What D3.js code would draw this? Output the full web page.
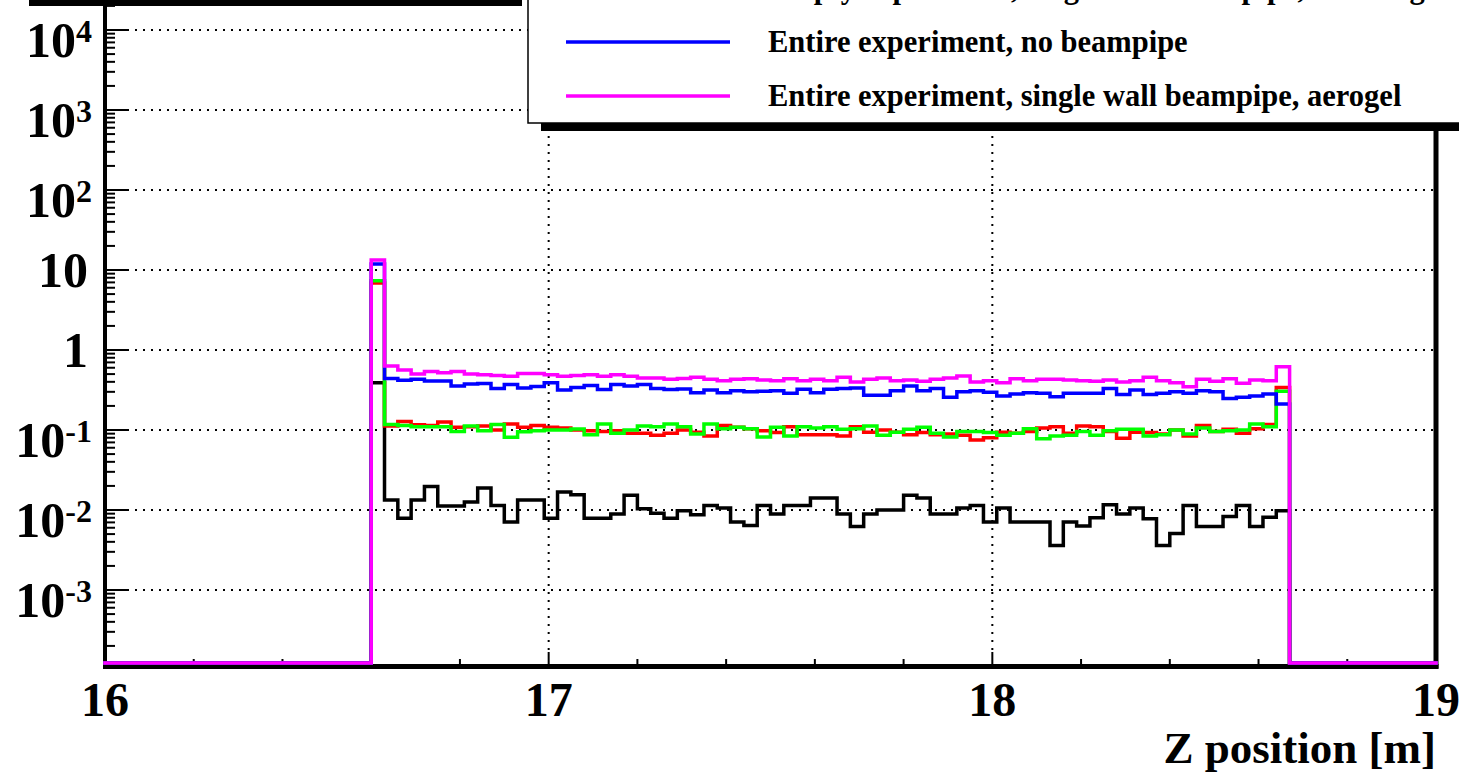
<!DOCTYPE html>
<html><head><meta charset="utf-8">
<script src="https://cdn.jsdelivr.net/npm/d3@7"></script>
<style>
html,body{margin:0;padding:0;background:#fff;overflow:hidden;}
svg{display:block;}
text{font-family:"Liberation Serif","Times New Roman",serif;font-weight:bold;fill:#000;}
</style></head><body>
<svg id="c" width="1459" height="773"></svg>
<script>
// ---- data ----
const binLow = 16, binWidth = 0.03, nBins = 100, firstFilledBin = 20;
const xTickValues = [16, 17, 18, 19];
const yDecades = [-3, -2, -1, 0, 1, 2, 3, 4];
const xTitle = "Z position [m]";

const blackVals = [0.39,0.0133,0.0079,0.0133,0.0196,0.0112,0.0112,0.0126,0.0188,0.0114,
 0.0071,0.0133,0.0133,0.0079,0.0168,0.0155,0.0079,0.0079,0.0089,0.0153,
 0.0104,0.0091,0.0079,0.0098,0.0087,0.0114,0.0106,0.0071,0.0064,0.0114,
 0.0089,0.0114,0.0114,0.0141,0.0141,0.0089,0.0062,0.0089,0.0100,0.0100,
 0.0153,0.0141,0.0089,0.0089,0.0106,0.0114,0.0071,0.0106,0.0071,0.0071,
 0.0071,0.0036,0.0071,0.0063,0.0080,0.0116,0.0089,0.0106,0.0078,0.0036,
 0.0051,0.0114,0.0062,0.0062,0.0083,0.0114,0.0062,0.0081,0.0098];
const redVals = [6.9,0.112,0.128,0.116,0.114,0.126,0.108,0.110,0.112,0.100,
 0.119,0.108,0.114,0.108,0.106,0.100,0.098,0.096,0.098,0.091,
 0.091,0.086,0.091,0.100,0.094,0.084,0.114,0.108,0.104,0.098,
 0.093,0.110,0.087,0.087,0.087,0.084,0.110,0.094,0.100,0.094,
 0.087,0.093,0.087,0.089,0.086,0.075,0.080,0.094,0.091,0.096,
 0.106,0.110,0.091,0.112,0.110,0.096,0.079,0.094,0.093,0.089,
 0.100,0.084,0.114,0.096,0.102,0.091,0.104,0.117,0.341];
const greenVals = [7.35,0.117,0.114,0.110,0.110,0.110,0.096,0.112,0.098,0.117,
 0.081,0.095,0.098,0.100,0.100,0.103,0.087,0.119,0.091,0.100,
 0.112,0.110,0.119,0.110,0.089,0.119,0.104,0.108,0.104,0.082,
 0.108,0.084,0.110,0.106,0.110,0.102,0.104,0.112,0.086,0.094,
 0.102,0.108,0.091,0.082,0.096,0.096,0.093,0.086,0.091,0.104,
 0.078,0.084,0.086,0.096,0.086,0.098,0.102,0.102,0.084,0.087,
 0.100,0.089,0.106,0.096,0.098,0.100,0.119,0.110,0.304];
const blueVals = [11.9,0.44,0.42,0.43,0.41,0.41,0.355,0.376,0.38,0.33,
 0.37,0.335,0.35,0.39,0.316,0.34,0.36,0.32,0.37,0.355,
 0.37,0.33,0.32,0.325,0.293,0.316,0.293,0.31,0.30,0.304,
 0.31,0.287,0.322,0.293,0.322,0.329,0.335,0.271,0.271,0.31,
 0.355,0.31,0.329,0.256,0.30,0.31,0.296,0.266,0.282,0.293,
 0.287,0.26,0.287,0.287,0.287,0.329,0.277,0.316,0.277,0.287,
 0.30,0.287,0.31,0.30,0.247,0.256,0.266,0.282,0.211];
const magentaVals = [13.3,0.63,0.562,0.50,0.54,0.52,0.54,0.50,0.49,0.48,
 0.47,0.51,0.51,0.49,0.47,0.48,0.49,0.47,0.49,0.47,
 0.447,0.447,0.43,0.44,0.455,0.43,0.414,0.43,0.438,0.422,
 0.414,0.438,0.414,0.43,0.414,0.455,0.398,0.43,0.447,0.414,
 0.422,0.406,0.43,0.447,0.473,0.398,0.414,0.391,0.438,0.414,
 0.43,0.43,0.422,0.414,0.406,0.422,0.398,0.414,0.455,0.414,
 0.391,0.348,0.43,0.406,0.438,0.383,0.422,0.414,0.619];

const seriesValues = [blackVals, redVals, greenVals, blueVals, magentaVals];
const seriesColors = ["#000000", "#ff0000", "#00ff00", "#0000ff", "#ff00ff"];

const legendLabels = ["Empty experiment, single wall beampipe, no aerogel",
  "Entire experiment, no beampipe",
  "Entire experiment, single wall beampipe, aerogel"];
const legendColors = ["#00ff00", "#0000ff", "#ff00ff"];

// ---- layout ----
const svg = d3.select("#c");
const frame = {left: 105, right: 1436, bottom: 665, top: 0};
const x = d3.scaleLinear().domain([16, 19]).range([frame.left, frame.right]);
const y = d3.scaleLog().domain([Math.pow(10, -3.9375), Math.pow(10, 4.375)]).range([frame.bottom, frame.top]);
const zeroY = 663;

// top-left bar (shadow of box above)
svg.append("rect").attr("x", 29).attr("y", -6).attr("width", 493).attr("height", 12).attr("fill", "#000");

// grid
const grid = svg.append("g").attr("stroke", "#000").attr("stroke-width", 2).attr("stroke-dasharray", "2,6");
yDecades.forEach(d => {
  const yy = y(Math.pow(10, d));
  grid.append("line").attr("x1", frame.left + 22).attr("x2", frame.right).attr("y1", yy).attr("y2", yy);
});
[17, 18].forEach(v => {
  grid.append("line").attr("x1", x(v)).attr("x2", x(v)).attr("y1", frame.top).attr("y2", frame.bottom - 12);
});

// axes frame
const axisG = svg.append("g");
const minorY = [];
for (let d = -4; d <= 4; d++) {
  for (let k = 2; k <= 9; k++) {
    const v = k * Math.pow(10, d);
    if (v > y.domain()[0] && v < y.domain()[1]) minorY.push(v);
  }
}
axisG.selectAll(".ymin").data(minorY).enter().append("line")
  .attr("x1", frame.left).attr("x2", frame.left + 10)
  .attr("y1", d => y(d)).attr("y2", d => y(d)).attr("stroke", "#000").attr("stroke-width", 2);
axisG.selectAll(".ymaj").data(yDecades).enter().append("line")
  .attr("x1", frame.left).attr("x2", frame.left + 22)
  .attr("y1", d => y(Math.pow(10, d))).attr("y2", d => y(Math.pow(10, d))).attr("stroke", "#000").attr("stroke-width", 2);

// x axis ticks
const minorX = d3.range(80, 96).map(i => i / 5).filter(v => !xTickValues.includes(v) && v > 16 && v < 19);
axisG.selectAll(".xmin").data(minorX).enter().append("line")
  .attr("x1", d => x(d)).attr("x2", d => x(d)).attr("y1", frame.bottom).attr("y2", frame.bottom - 6)
  .attr("stroke", "#000").attr("stroke-width", 2);
axisG.selectAll(".xmaj").data(xTickValues).enter().append("line")
  .attr("x1", d => x(d)).attr("x2", d => x(d)).attr("y1", frame.bottom).attr("y2", frame.bottom - 13)
  .attr("stroke", "#000").attr("stroke-width", 2);

// frame lines
axisG.append("line").attr("x1", frame.left).attr("x2", frame.left).attr("y1", 0).attr("y2", frame.bottom + 3.5)
  .attr("stroke", "#000").attr("stroke-width", 4);
axisG.append("line").attr("x1", frame.left - 2).attr("x2", frame.right + 2.5).attr("y1", frame.bottom + 1.5).attr("y2", frame.bottom + 1.5)
  .attr("stroke", "#000").attr("stroke-width", 5);
axisG.append("line").attr("x1", frame.right).attr("x2", frame.right).attr("y1", 120).attr("y2", frame.bottom + 3.5)
  .attr("stroke", "#000").attr("stroke-width", 5);

// histograms
const line = d3.line().x(d => x(d[0])).y(d => d[1] > 0 ? y(d[1]) : zeroY).curve(d3.curveStepAfter);
seriesValues.forEach((vals, si) => {
  const pts = [];
  for (let i = 0; i < nBins; i++) {
    const j = i - firstFilledBin;
    const v = (j >= 0 && j < vals.length) ? vals[j] : 0;
    pts.push([binLow + i * binWidth, v]);
  }
  pts.push([binLow + nBins * binWidth, pts[nBins - 1][1]]);
  svg.append("path").attr("d", line(pts)).attr("fill", "none")
    .attr("stroke", seriesColors[si]).attr("stroke-width", 3.5).attr("stroke-linejoin", "miter").attr("stroke-linecap", "square");
});

// y labels
const yl = svg.append("g");
yDecades.forEach(d => {
  const yy = y(Math.pow(10, d));
  const t = yl.append("text").attr("text-anchor", "end").style("font-size", "50px");
  if (d === 0) { t.attr("x", 88).attr("y", yy + 17).text("1"); }
  else if (d === 1) { t.attr("x", 88).attr("y", yy + 17).text("10"); }
  else {
    t.attr("x", 92).attr("y", yy + 27);
    t.append("tspan").text("10");
    t.append("tspan").attr("dy", -15).style("font-size", "32px").text(String(d));
  }
});

// x labels
svg.append("g").selectAll("text").data(xTickValues).enter().append("text")
  .attr("x", d => x(d)).attr("y", 716).attr("text-anchor", "middle").style("font-size", "48px").text(d => d);
svg.append("text").attr("x", frame.right).attr("y", 763).attr("text-anchor", "end").style("font-size", "45px").text(xTitle);

// legend
const lg = svg.append("g");
lg.append("rect").attr("x", 541).attr("y", -20).attr("width", 1000).attr("height", 151).attr("fill", "#000");
lg.append("rect").attr("x", 528).attr("y", -20).attr("width", 1000).attr("height", 143).attr("fill", "#fff").attr("stroke", "#000").attr("stroke-width", 1.5);
legendLabels.forEach((lab, i) => {
  const yy = 42 + (i - 1) * 54;
  lg.append("line").attr("x1", 566).attr("x2", 730).attr("y1", yy).attr("y2", yy)
    .attr("stroke", legendColors[i]).attr("stroke-width", 3.5);
  lg.append("text").attr("x", 768).attr("y", yy + 10).style("font-size", "30.5px").text(lab);
});
</script>
</body></html>
